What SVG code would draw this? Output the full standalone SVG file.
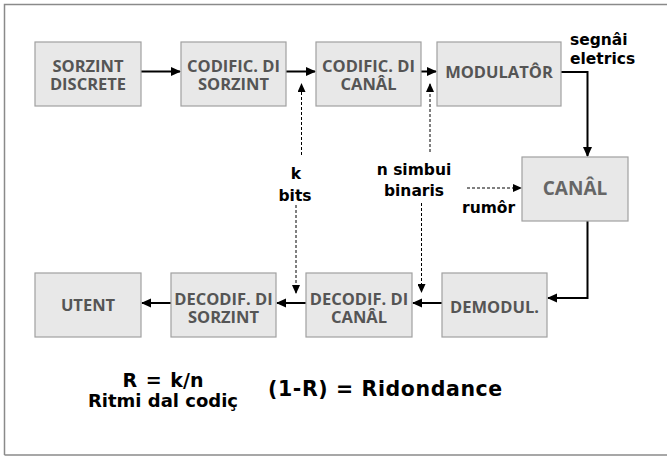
<svg xmlns="http://www.w3.org/2000/svg" width="667" height="456" viewBox="0 0 667 456">
<style>
.box{fill:#e8e8e8;stroke:#a0a0a0;stroke-width:1.2}
.bt{font-family:"Open Sans","DejaVu Sans",sans-serif;font-weight:bold;font-size:16.5px;fill:#555;text-anchor:middle}
.lb{font-family:"DejaVu Sans",sans-serif;font-weight:bold;font-size:15.5px;fill:#000}
.big{font-family:"DejaVu Sans",sans-serif;font-weight:bold;font-size:19px;fill:#000}
.c{fill:none;stroke:#000;stroke-width:2}
.d{fill:none;stroke:#000;stroke-width:1;stroke-dasharray:3 2}
</style>
<defs>
<marker id="ah" markerWidth="10" markerHeight="10" refX="9" refY="5" orient="auto" markerUnits="userSpaceOnUse"><path d="M0,0.5 L10,5 L0,9.5 Z" fill="#000"/></marker>
<marker id="dh" markerWidth="9" markerHeight="8" refX="8" refY="4" orient="auto" markerUnits="userSpaceOnUse"><path d="M0,0 L9,4 L0,8 Z" fill="#000"/></marker>
</defs>
<rect x="0" y="0" width="667" height="456" fill="#fff"/>
<path d="M4.5,455 V4.5 H667 M4.5,455 H667" fill="none" stroke="#8a8a8a" stroke-width="1.5"/>
<g id="connectors">
<path class="c" d="M141,71.5 H180" marker-end="url(#ah)"/>
<path class="c" d="M286,71.5 H315" marker-end="url(#ah)"/>
<path class="c" d="M421,71.5 H436" marker-end="url(#ah)"/>
<path class="c" d="M561,72 H587.5 V156" marker-end="url(#ah)"/>
<path class="c" d="M587.5,221 V298 H548" marker-end="url(#ah)"/>
<path class="c" d="M442,303 H413" marker-end="url(#ah)"/>
<path class="c" d="M306,303 H277" marker-end="url(#ah)"/>
<path class="c" d="M171,303 H142" marker-end="url(#ah)"/>
<path class="d" d="M301.5,155 V84" marker-end="url(#dh)"/>
<path class="d" d="M430,152 V84" marker-end="url(#dh)"/>
<path class="d" d="M296,205 V293" marker-end="url(#dh)"/>
<path class="d" d="M421.5,203 V292" marker-end="url(#dh)"/>
<path class="d" d="M467,188 H521" marker-end="url(#dh)"/>
</g>
<g id="sorzint-discrete"><rect class="box" x="35" y="42" width="106" height="64"/><text class="bt" x="88" y="72">SORZINT</text><text class="bt" x="88" y="90">DISCRETE</text></g>
<g id="codific-sorzint"><rect class="box" x="181" y="42" width="105" height="64"/><text class="bt" x="233.5" y="72">CODIFIC. DI</text><text class="bt" x="233.5" y="90">SORZINT</text></g>
<g id="codific-canal"><rect class="box" x="316" y="42" width="105" height="64"/><text class="bt" x="368.5" y="72">CODIFIC. DI</text><text class="bt" x="368.5" y="90">CANÂL</text></g>
<g id="modulator"><rect class="box" x="437" y="42" width="124" height="64"/><text class="bt" x="499" y="78">MODULATÔR</text></g>
<g id="canal"><rect class="box" x="522" y="157" width="106" height="64"/><text class="bt" x="575" y="195" style="font-size:19px;fill:#666">CANÂL</text></g>
<g id="utent"><rect class="box" x="35" y="273" width="106" height="64"/><text class="bt" x="88" y="311">UTENT</text></g>
<g id="decodif-sorzint"><rect class="box" x="171" y="273" width="105" height="64"/><text class="bt" x="223.5" y="305">DECODIF. DI</text><text class="bt" x="223.5" y="323">SORZINT</text></g>
<g id="decodif-canal"><rect class="box" x="306" y="273" width="106" height="64"/><text class="bt" x="359" y="305">DECODIF. DI</text><text class="bt" x="359" y="323">CANÂL</text></g>
<g id="demodul"><rect class="box" x="442" y="273" width="105" height="64"/><text class="bt" x="494.5" y="313">DEMODUL.</text></g>
<g id="labels">
<text class="lb" x="570" y="45">segnâi</text>
<text class="lb" x="570" y="64">eletrics</text>
<text class="lb" x="296" y="179" text-anchor="middle">k</text>
<text class="lb" x="295" y="201" text-anchor="middle">bits</text>
<text class="lb" x="414" y="175" text-anchor="middle">n simbui</text>
<text class="lb" x="414" y="195.5" text-anchor="middle">binaris</text>
<text class="lb" x="462" y="213">rumôr</text>
<text class="big" x="163" y="387" text-anchor="middle" style="word-spacing:2px">R = k/n</text>
<text class="big" x="163" y="407" text-anchor="middle" style="font-size:18px">Ritmi dal codiç</text>
<text class="big" x="268" y="396" style="font-size:20.5px;letter-spacing:0.6px">(1-R) = Ridondance</text>
</g>
</svg>
